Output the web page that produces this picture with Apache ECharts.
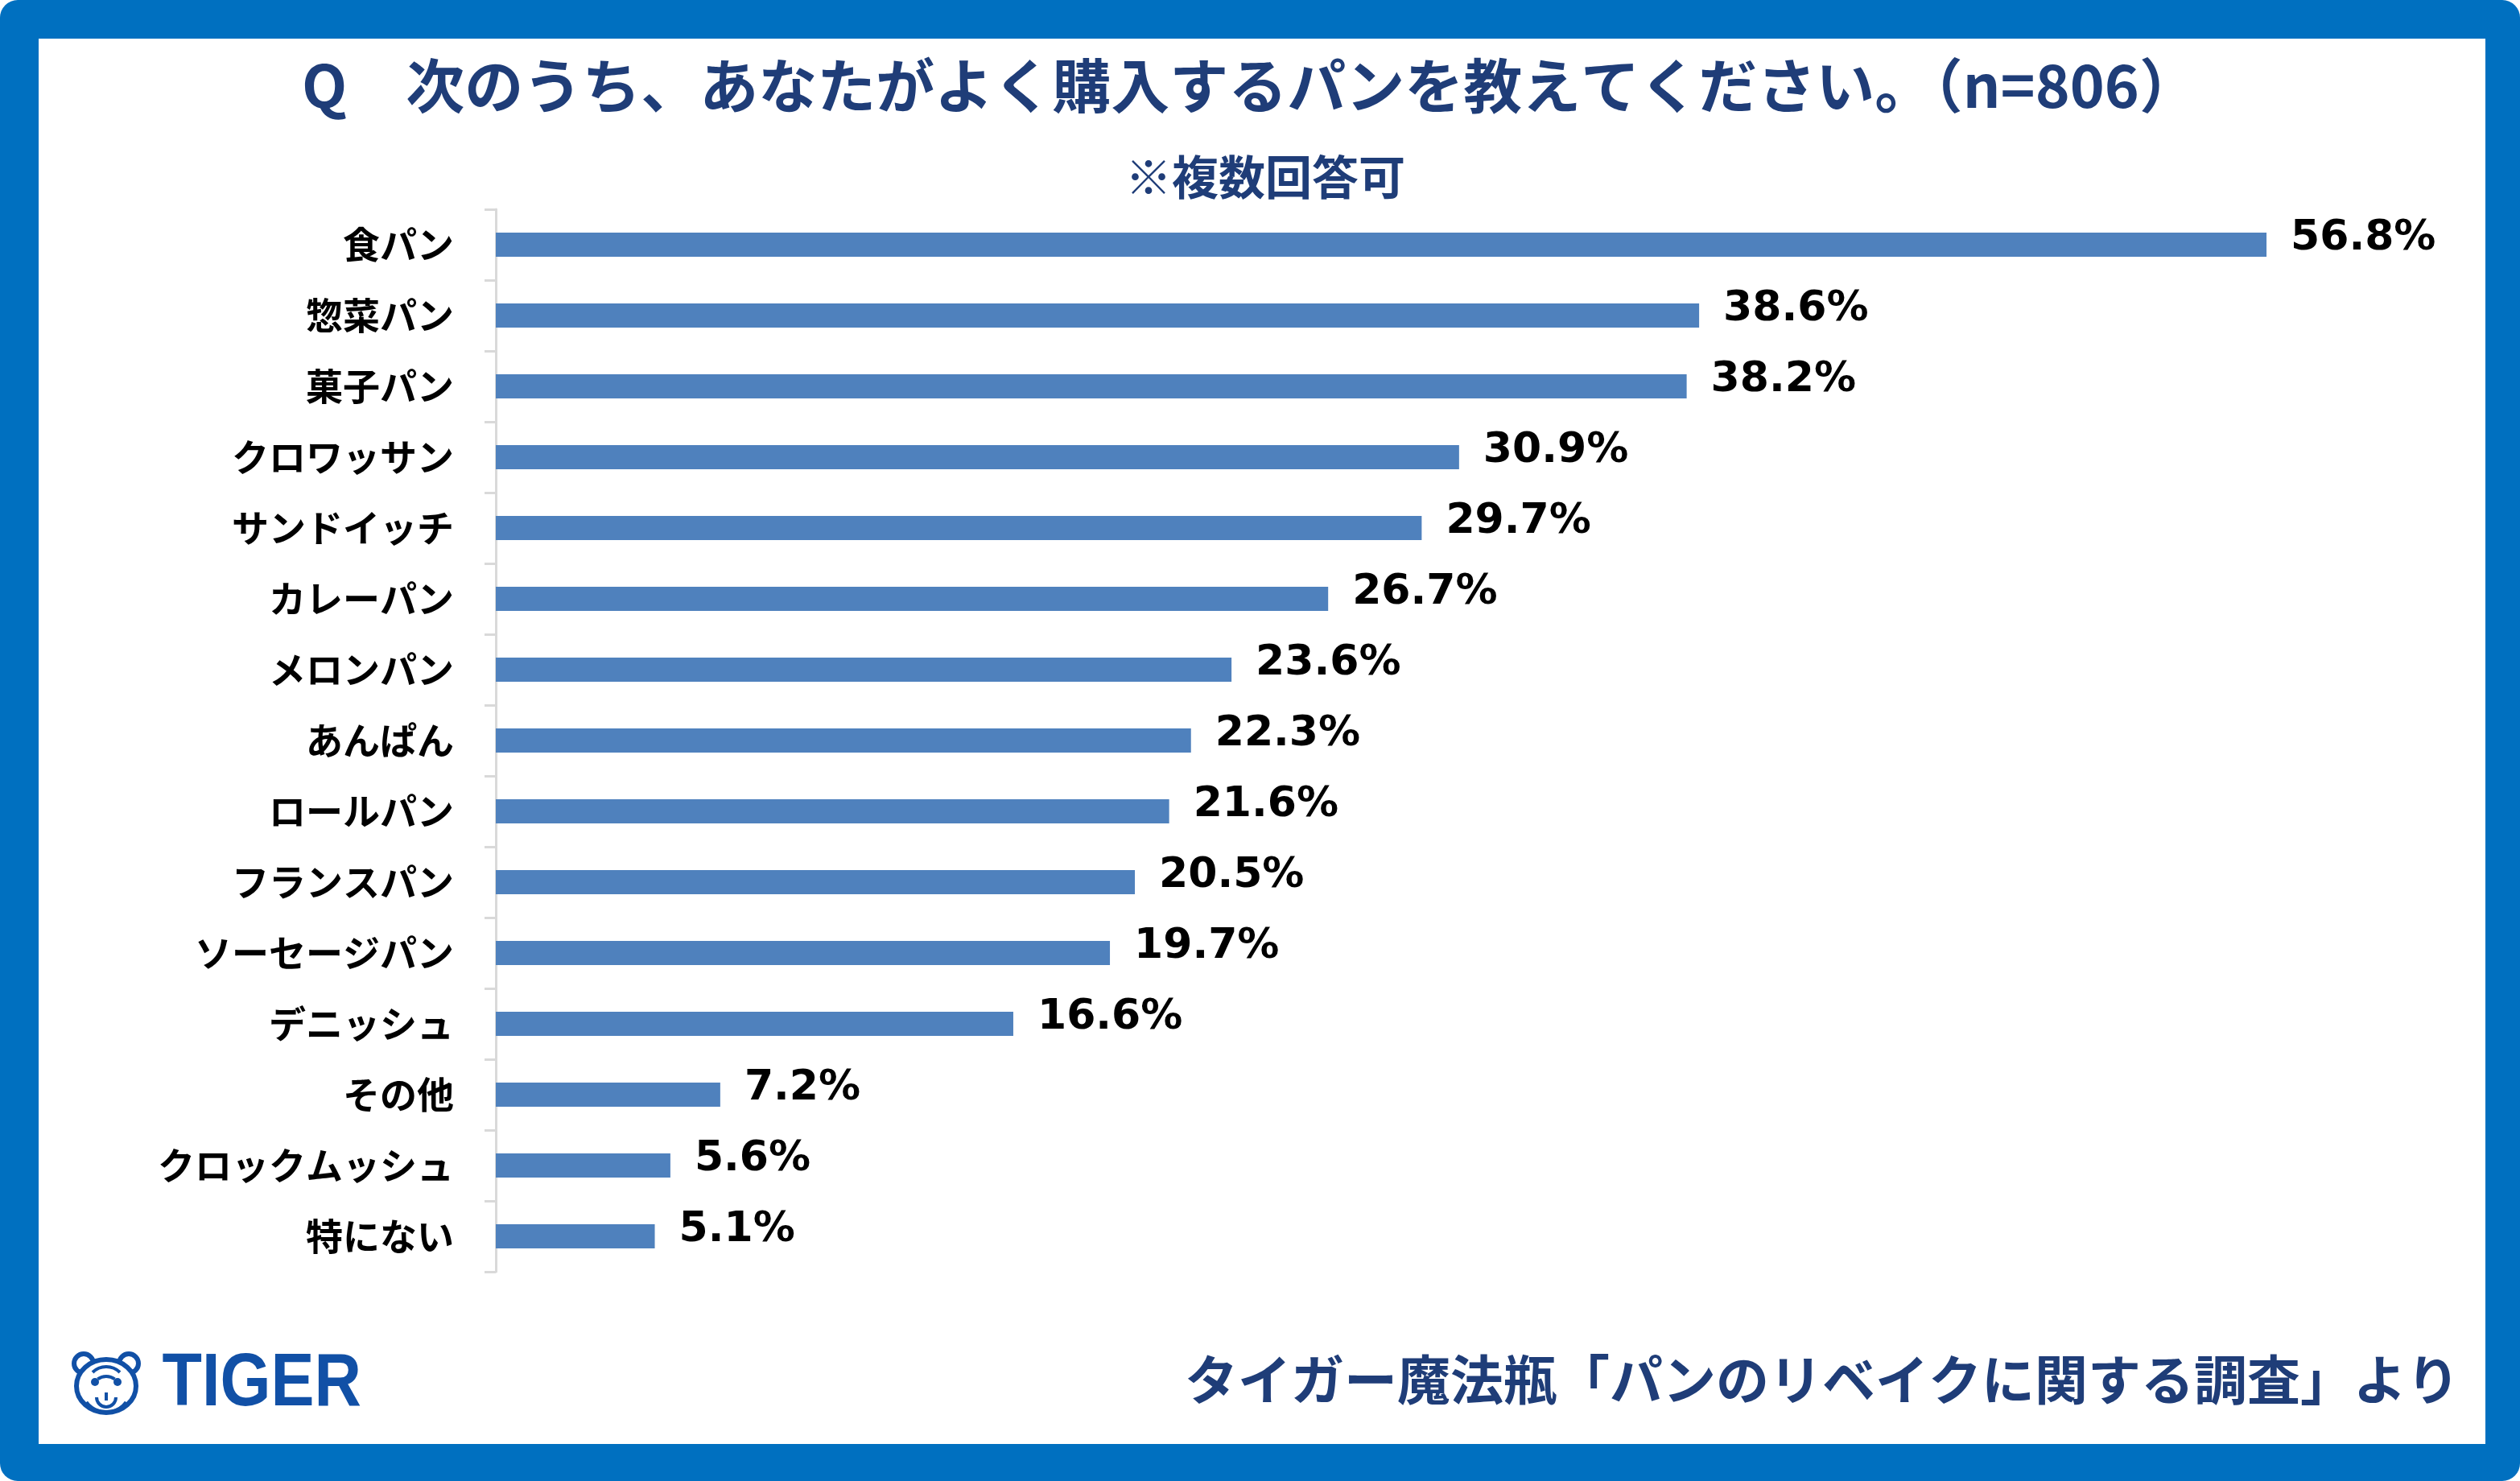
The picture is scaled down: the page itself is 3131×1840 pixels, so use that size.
<!DOCTYPE html>
<html>
<head>
<meta charset="utf-8">
<script src="https://cdn.jsdelivr.net/npm/echarts@6/dist/echarts.min.js"></script>
<style>
html,body{margin:0;padding:0;background:#fff;}
#chart{width:3131px;height:1840px;}
</style>
</head>
<body>
<div id="chart"></div>
<script>
const categories = ['食パン','惣菜パン','菓子パン','クロワッサン','サンドイッチ','カレーパン','メロンパン','あんぱん','ロールパン','フランスパン','ソーセージパン','デニッシュ','その他','クロックムッシュ','特にない'];
const values = [56.8, 38.6, 38.2, 30.9, 29.7, 26.7, 23.6, 22.3, 21.6, 20.5, 19.7, 16.6, 7.2, 5.6, 5.1];
const titleText = 'Q　次のうち、あなたがよく購入するパンを教えてください。（n=806）';
const subtitleText = '※複数回答可';
const sourceText = 'タイガー魔法瓶「パンのリベイクに関する調査」より';
const logoText = 'TIGER';

const NAVY = '#1F3D78';
const FRAME = '#0070C0';
const LOGO = '#1150A6';
const JP = '"Noto Sans CJK JP", "Noto Sans CJK SC", sans-serif';

const chart = echarts.init(document.getElementById('chart'));

const logoFace = [
  {type:'circle', shape:{cx:104, cy:1694, r:12}, style:{fill:'#fff', stroke:LOGO, lineWidth:6}, z:1},
  {type:'circle', shape:{cx:160, cy:1694, r:12}, style:{fill:'#fff', stroke:LOGO, lineWidth:6}, z:1},
  {type:'ellipse', shape:{cx:132, cy:1722, rx:37, ry:33}, style:{fill:'#fff', stroke:LOGO, lineWidth:6}, z:2},
  {type:'arc', shape:{cx:132, cy:1722, r:24, startAngle:Math.PI*1.25, endAngle:Math.PI*1.75}, style:{stroke:LOGO, lineWidth:4, fill:null}, z:3},
  {type:'arc', shape:{cx:132, cy:1728, r:18, startAngle:Math.PI*1.3, endAngle:Math.PI*1.7}, style:{stroke:LOGO, lineWidth:4, fill:null}, z:3},
  {type:'circle', shape:{cx:118, cy:1717, r:5}, style:{fill:LOGO}, z:3},
  {type:'circle', shape:{cx:146, cy:1717, r:5}, style:{fill:LOGO}, z:3},
  {type:'arc', shape:{cx:132, cy:1736, r:12, startAngle:0, endAngle:Math.PI}, style:{stroke:LOGO, lineWidth:4, fill:null}, z:3},
  {type:'line', shape:{x1:132, y1:1730, x2:132, y2:1740}, style:{stroke:LOGO, lineWidth:4}, z:3},
  {type:'arc', shape:{cx:132, cy:1724, r:30, startAngle:Math.PI*0.2, endAngle:Math.PI*0.8}, style:{stroke:LOGO, lineWidth:3, fill:null}, z:3}
];

const option = {
  backgroundColor: '#fff',
  animation: false,
  graphic: [
    {type:'rect', z:-20, silent:true, shape:{x:0, y:0, width:3131, height:1840, r:22}, style:{fill:FRAME}},
    {type:'rect', z:-19, silent:true, shape:{x:48, y:48, width:3040, height:1746}, style:{fill:'#fff'}},
    {type:'text', x:1553, y:106, style:{text:titleText, font:'bold 73px ' + JP, fill:NAVY, textAlign:'center', textVerticalAlign:'middle'}},
    {type:'text', x:1572, y:220, style:{text:subtitleText, font:'bold 58px ' + JP, fill:NAVY, textAlign:'center', textVerticalAlign:'middle'}},
    {type:'text', x:3056, y:1714, style:{text:sourceText, font:'bold 66px ' + JP, fill:NAVY, textAlign:'right', textVerticalAlign:'middle'}},
    {type:'text', x:180, y:1721, scaleX:0.88, originX:180, originY:1721, style:{text:logoText, font:'bold 92px "Liberation Sans", Arial, sans-serif', fill:LOGO, textAlign:'left', textVerticalAlign:'middle'}},
    {type:'group', children: logoFace}
  ],
  grid: {left:616, top:260, width:2324, height:1320, containLabel:false},
  xAxis: {
    type:'value', min:0, max:60, show:false
  },
  yAxis: {
    type:'category', data:categories, inverse:true,
    axisLine:{show:true, lineStyle:{color:'#D9D9D9', width:3}},
    axisTick:{show:true, length:14, lineStyle:{color:'#D9D9D9', width:3}},
    axisLabel:{margin:52, color:'#000', fontWeight:'bold', fontSize:46, fontFamily:JP}
  },
  series: [{
    type:'bar', data:values, barWidth:30,
    itemStyle:{color:'#4F81BD'},
    label:{
      show:true, position:'right', distance:30, offset:[0,-8],
      color:'#000', fontWeight:'bold', fontSize:52, fontFamily:'"DejaVu Sans", Verdana, sans-serif',
      formatter: p => p.value.toFixed(1) + '%'
    }
  }]
};
chart.setOption(option);
</script>
</body>
</html>
